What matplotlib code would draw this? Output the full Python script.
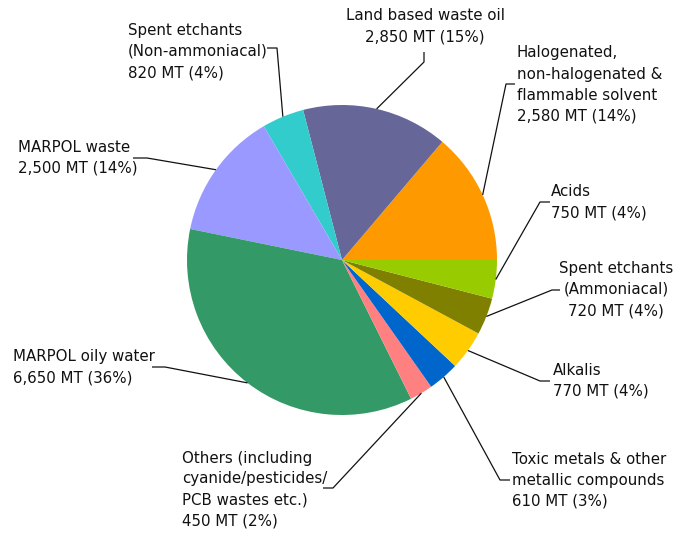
import matplotlib
matplotlib.use("Agg")
import matplotlib.pyplot as plt
import numpy as np

# ---- data ----
categories = [
    "Halogenated,\nnon-halogenated &\nflammable solvent",
    "Land based waste oil",
    "Spent etchants\n(Non-ammoniacal)",
    "MARPOL waste",
    "MARPOL oily water",
    "Others (including\ncyanide/pesticides/\nPCB wastes etc.)",
    "Toxic metals & other\nmetallic compounds",
    "Alkalis",
    "Spent etchants\n(Ammoniacal)",
    "Acids",
]
values_mt = [2580, 2850, 820, 2500, 6650, 450, 610, 770, 720, 750]
percents = [14, 15, 4, 14, 36, 2, 3, 4, 4, 4]
colors = ["#FF9900", "#666699", "#33CCCC", "#9999FF", "#339966",
          "#FF8080", "#0066CC", "#FFCC00", "#808000", "#99CC00"]

# ---- layout (image pixel coords, y downward) ----
W, H = 673, 533
CX, CY, R = 342, 260, 155
# text anchor x, block-centre y, horizontal alignment
text_pos = [(517, 84.5, "left"), (425, 26, "center"), (128, 51.5, "left"),
            (18, 157.5, "left"), (13, 367.5, "left"), (182, 489.5, "left"),
            (512, 480, "left"), (553, 381, "left"), (616, 289.5, "center"),
            (551, 202.5, "left")]
# leader line: text-side end, elbow
leaders = [((515, 84), (506, 84)), ((424, 52), (424, 62)), ((267, 48), (277, 48)),
           ((133, 158), (147, 158)), ((152, 367), (165, 367)), ((323, 488), (333, 488)),
           ((510, 480), (500, 480)), ((550, 381), (540, 381)), ((560, 290), (552, 290)),
           ((550, 202), (540, 202))]

def P(x, y):
    return x, H - y

fig = plt.figure(figsize=(W / 100, H / 100), dpi=100)
ax = fig.add_axes([0, 0, 1, 1])

cx, cy = P(CX, CY)
wedges, _ = ax.pie(values_mt, colors=colors, startangle=0, counterclock=True,
                   center=(cx, cy), radius=R, frame=True,
                   wedgeprops=dict(linewidth=0, antialiased=True))
ax.set_xlim(0, W)
ax.set_ylim(0, H)
ax.set_aspect("equal")
ax.axis("off")

for i, w in enumerate(wedges):
    th = np.deg2rad((w.theta1 + w.theta2) / 2)
    sx, sy = cx + R * np.cos(th), cy + R * np.sin(th)
    (tx, ty), (ex, ey) = leaders[i]
    tx, ty = P(tx, ty)
    ex, ey = P(ex, ey)
    ax.plot([sx, ex, tx], [sy, ey, ty], color="#111111", lw=0.9,
            solid_capstyle="butt", zorder=3)
    x, y, ha = text_pos[i]
    x, y = P(x, y)
    label = f"{categories[i]}\n{values_mt[i]:,} MT ({percents[i]}%)"
    ax.text(x, y, label, ha=ha, va="center", multialignment=ha,
            fontsize=10.8, family="DejaVu Sans", color="#111111",
            linespacing=1.5, zorder=4)

fig.savefig("out.png", dpi=100, facecolor="white")
